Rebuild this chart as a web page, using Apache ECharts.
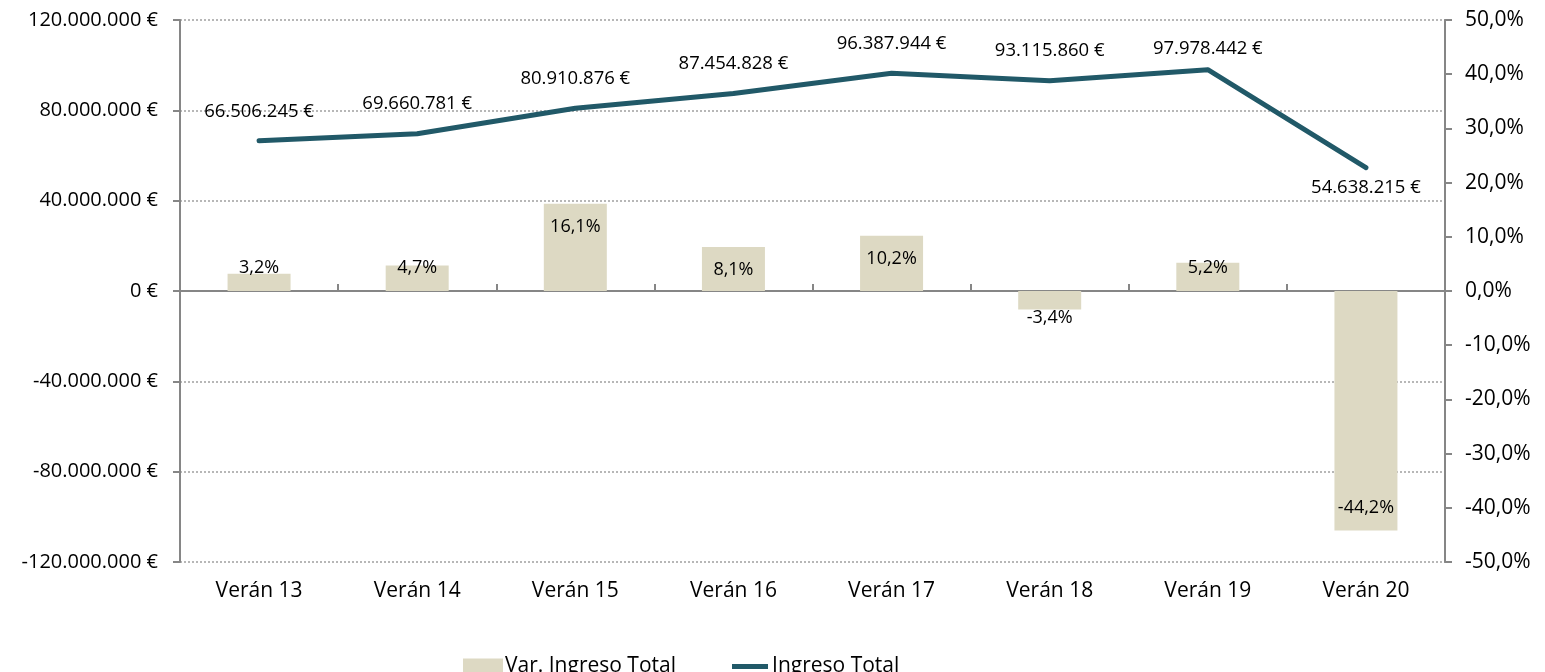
<!DOCTYPE html>
<html>
<head>
<meta charset="utf-8">
<script src="https://cdn.jsdelivr.net/npm/echarts@6/dist/echarts.min.js"></script>
<style>html,body{margin:0;padding:0;background:#fff}#c{width:1545px;height:672px}</style>
</head>
<body>
<div id="c"></div>
<script>
const categories = ['Verán 13','Verán 14','Verán 15','Verán 16','Verán 17','Verán 18','Verán 19','Verán 20'];
const ingresoTotal = [66506245, 69660781, 80910876, 87454828, 96387944, 93115860, 97978442, 54638215];
const varIngreso = [3.2, 4.7, 16.1, 8.1, 10.2, -3.4, 5.2, -44.2];
const leftTicks = {min: -120000000, max: 120000000, interval: 40000000};
const rightTicks = {min: -50, max: 50, interval: 10};

const FONT = '"Open Sans", sans-serif';
const fmtEuro = v => {
  const s = Math.round(Math.abs(v)).toString().replace(/\B(?=(\d{3})+(?!\d))/g, '.');
  return (v < 0 ? '-' : '') + s + ' €';
};
const fmtPct = v => v.toFixed(1).replace('.', ',') + '%';

const barData = varIngreso.map(v => {
  let pos;
  if (v >= 0) pos = v > 6 ? 'insideTop' : 'insideBottom';
  else pos = v < -6 ? 'insideBottom' : 'insideTop';
  return {value: v, label: {position: pos, distance: v < 0 && v > -6 ? 18 : 14}};
});
const lineData = ingresoTotal.map((v, i) => {
  const last = i === ingresoTotal.length - 1;
  return {value: v, label: {position: last ? 'bottom' : 'top', distance: last ? 9 : (i === 6 ? 9 : 18)}};
});

const axisColor = '#868686';
const chart = echarts.init(document.getElementById('c'), null, {renderer: 'canvas'});
chart.setOption({
  animation: false,
  textStyle: {fontFamily: FONT},
  grid: {left: 180, right: 100, top: 20, bottom: 110},
  legend: {
    left: 458, top: 651,
    itemWidth: 40, itemHeight: 16, itemGap: 54,
    textStyle: {fontFamily: FONT, fontSize: 21, color: '#000', padding: [0, 0, 0, -3]},
    data: [
      {name: 'Var. Ingreso Total', icon: 'rect'},
      {name: 'Ingreso Total', icon: 'path://M0,0 L0.01,0 L0.01,0.01 Z M40,16 L39.99,16 L39.99,15.99 Z M2,5.5 L38,5.5 L38,10.5 L2,10.5 Z'}
    ]
  },
  xAxis: [
    {
      type: 'category', data: categories, position: 'bottom',
      axisLine: {show: false}, axisTick: {show: false},
      axisLabel: {fontFamily: FONT, fontSize: 21, color: '#000', margin: 19}
    },
    {
      type: 'category', data: categories,
      axisLine: {onZero: true, onZeroAxisIndex: 0, lineStyle: {color: axisColor, width: 2}},
      axisTick: {show: true, inside: false, length: 7, alignWithLabel: false, lineStyle: {color: axisColor, width: 2}},
      axisLabel: {show: false}
    }
  ],
  yAxis: [
    {
      type: 'value', min: leftTicks.min, max: leftTicks.max, interval: leftTicks.interval,
      axisLine: {show: true, lineStyle: {color: axisColor, width: 2}},
      axisTick: {show: true, length: 7, lineStyle: {color: axisColor, width: 2}},
      axisLabel: {fontFamily: FONT, fontSize: 20, color: '#000', margin: 22, formatter: fmtEuro},
      splitLine: {show: true, lineStyle: {type: [2, 2], color: '#a0a0a0', width: 1.5}}
    },
    {
      type: 'value', min: rightTicks.min, max: rightTicks.max, interval: rightTicks.interval,
      axisLine: {show: true, lineStyle: {color: axisColor, width: 2}},
      axisTick: {show: true, length: 7, lineStyle: {color: axisColor, width: 2}},
      axisLabel: {fontFamily: FONT, fontSize: 21, color: '#000', margin: 20, formatter: fmtPct},
      splitLine: {show: false}
    }
  ],
  series: [
    {
      name: 'Var. Ingreso Total', type: 'bar', xAxisIndex: 0, yAxisIndex: 1,
      data: barData, barWidth: 63,
      itemStyle: {color: '#DDD9C3'},
      label: {show: true, fontFamily: FONT, fontSize: 18, color: '#000', formatter: p => fmtPct(p.value)},
      z: 2
    },
    {
      name: 'Ingreso Total', type: 'line', xAxisIndex: 0, yAxisIndex: 0,
      data: lineData, showSymbol: true, symbol: 'circle', symbolSize: 4,
      lineStyle: {color: '#215968', width: 5, cap: 'round', join: 'round'},
      itemStyle: {color: '#215968'},
      label: {show: true, fontFamily: FONT, fontSize: 18.5, color: '#000', formatter: p => fmtEuro(p.value)},
      z: 3
    }
  ]
});
</script>
</body>
</html>
